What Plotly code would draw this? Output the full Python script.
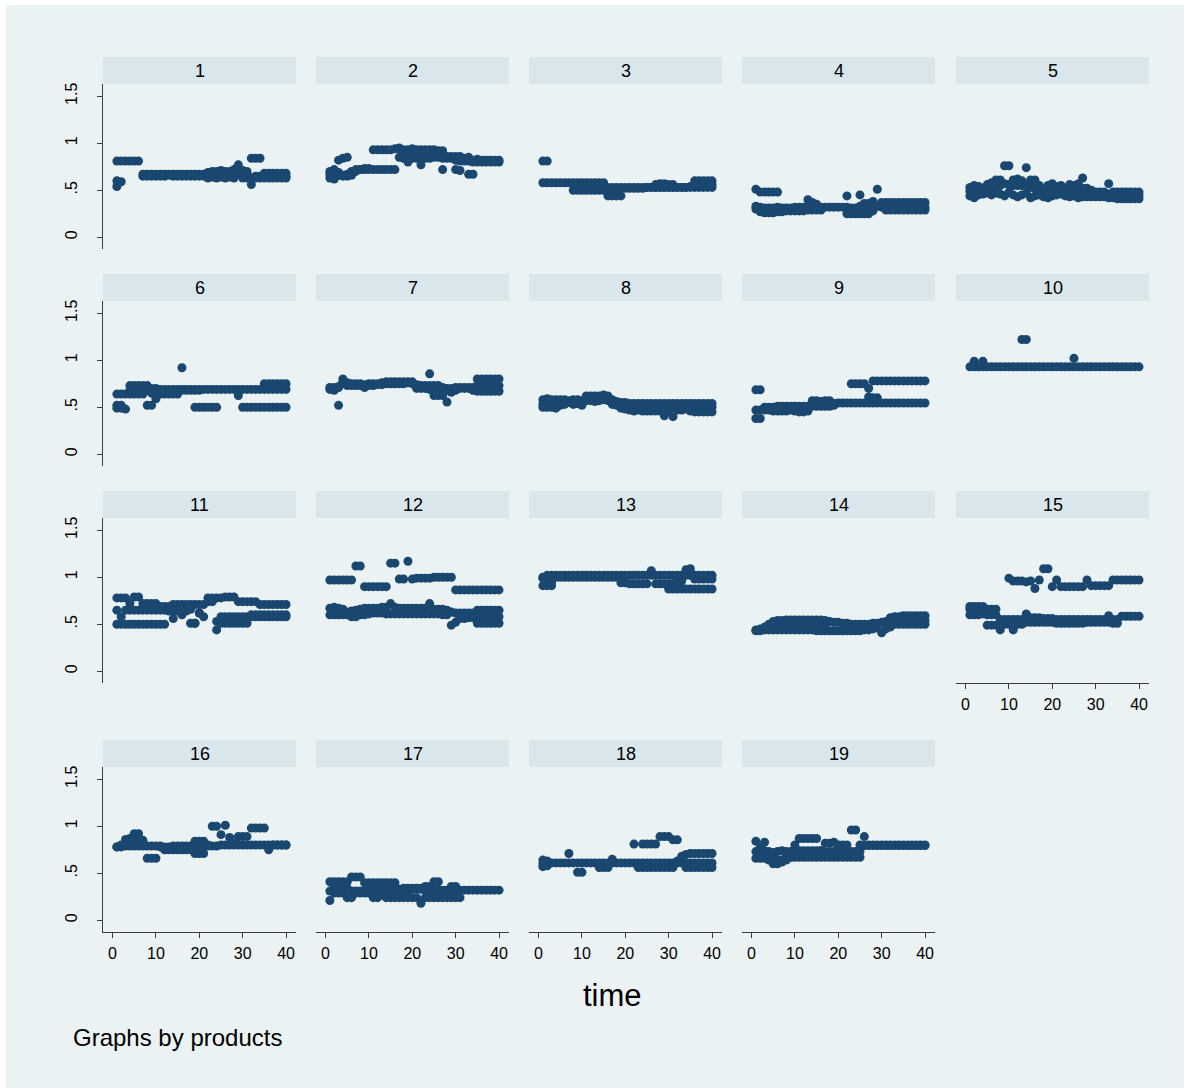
import plotly.graph_objects as go

N = None

# time index shared by every product
time = list(range(1, 41))

# product ids used as panel headers
products = [str(i) for i in range(1, 20)]

# Observed values per product: each list holds one value per time period (None = no obs)
prod_01 = [
    [0.60, 0.59, N, N, N, N, 0.65, 0.65, 0.65, 0.65,
     0.65, 0.65, 0.66, 0.65, 0.65, 0.65, 0.65, 0.65, 0.65, 0.65,
     0.65, 0.66, 0.66, 0.65, 0.66, 0.67, 0.66, 0.67, 0.72, 0.68,
     0.68, 0.56, 0.65, 0.65, 0.65, 0.65, 0.65, 0.65, 0.65, 0.65],
    [0.81, 0.81, 0.81, 0.81, 0.81, 0.81, 0.67, 0.67, 0.67, 0.67,
     0.67, 0.67, 0.67, 0.67, 0.67, 0.67, 0.67, 0.67, 0.67, 0.67,
     0.67, 0.69, 0.70, 0.70, 0.71, 0.70, 0.70, 0.72, 0.77, 0.71,
     0.70, 0.84, 0.84, 0.84, 0.68, 0.68, 0.68, 0.68, 0.68, 0.68],
    [0.54, N, N, N, N, N, N, N, N, N,
     N, N, N, N, N, N, N, N, N, N,
     N, 0.63, 0.64, 0.63, 0.64, 0.63, 0.64, 0.63, 0.68, 0.63,
     0.63, 0.63, 0.63, 0.63, 0.63, 0.63, 0.63, 0.63, 0.63, 0.63],
]
prod_02 = [
    [0.63, 0.62, 0.66, 0.66, 0.67, 0.70, 0.72, 0.72, 0.72, 0.72,
     0.72, 0.72, 0.72, 0.72, 0.72, 0.72, 0.85, 0.84, 0.84, 0.84,
     0.84, 0.84, 0.84, 0.84, 0.85, 0.85, 0.84, 0.84, 0.84, 0.82,
     0.81, 0.81, 0.81, 0.80, 0.80, 0.80, 0.80, 0.80, 0.80, 0.80],
    [0.70, 0.72, 0.82, 0.84, 0.85, 0.66, 0.70, 0.72, 0.73, 0.73,
     0.93, 0.93, 0.93, 0.93, 0.93, 0.94, 0.94, 0.93, 0.93, 0.94,
     0.93, 0.93, 0.93, 0.93, 0.93, 0.92, 0.92, 0.86, 0.86, 0.86,
     0.86, 0.84, 0.85, 0.82, 0.83, 0.82, 0.82, 0.82, 0.82, 0.82],
    [0.67, 0.65, 0.69, 0.65, 0.65, N, N, N, N, N,
     N, N, N, N, N, N, 0.95, 0.88, 0.80, 0.87,
     0.90, 0.77, 0.86, 0.86, 0.86, 0.86, 0.72, N, N, 0.72,
     0.71, N, 0.67, 0.67, N, N, N, N, N, N],
]
prod_03 = [
    [0.58, 0.58, 0.58, 0.58, 0.58, 0.58, 0.58, 0.58, 0.58, 0.58,
     0.58, 0.58, 0.58, 0.58, 0.58, 0.53, 0.53, 0.53, 0.53, 0.53,
     0.53, 0.53, 0.53, 0.53, 0.53, 0.53, 0.53, 0.53, 0.53, 0.53,
     0.53, 0.53, 0.53, 0.53, 0.53, 0.53, 0.53, 0.53, 0.53, 0.53],
    [0.81, 0.81, N, N, N, N, N, 0.50, 0.50, 0.50,
     0.50, 0.50, 0.50, 0.50, 0.50, 0.44, 0.44, 0.44, 0.44, N,
     N, N, N, N, N, N, 0.56, 0.57, 0.57, 0.56,
     0.56, N, N, N, N, 0.60, 0.60, 0.60, 0.60, 0.60],
    [N, N, N, N, N, N, N, N, N, N,
     N, N, N, N, N, 0.49, 0.50, 0.48, 0.52, 0.52,
     0.52, 0.52, 0.52, 0.52, 0.53, 0.53, 0.53, 0.53, 0.53, 0.53,
     0.53, 0.53, 0.53, 0.53, 0.54, 0.56, 0.56, 0.56, 0.56, 0.56],
]
prod_04 = [
    [0.33, 0.32, 0.31, 0.31, 0.31, 0.32, 0.31, 0.31, 0.31, 0.32,
     0.32, 0.32, 0.33, 0.32, 0.32, 0.32, 0.32, 0.32, 0.32, 0.32,
     0.32, 0.32, 0.31, 0.31, 0.33, 0.33, 0.32, 0.34, 0.33, 0.32,
     0.32, 0.32, 0.32, 0.32, 0.32, 0.32, 0.32, 0.32, 0.32, 0.32],
    [0.51, 0.48, 0.48, 0.48, 0.48, 0.48, N, N, N, N,
     N, N, 0.40, 0.37, 0.35, N, N, N, N, N,
     N, 0.44, N, N, 0.45, 0.36, 0.36, 0.38, 0.51, 0.37,
     0.37, 0.37, 0.37, 0.37, 0.37, 0.37, 0.37, 0.37, 0.37, 0.37],
    [0.30, 0.27, 0.26, 0.26, 0.26, 0.27, 0.27, 0.28, 0.28, 0.28,
     0.28, 0.28, 0.29, 0.29, 0.29, 0.29, N, N, N, N,
     N, 0.25, 0.25, 0.25, 0.25, 0.25, 0.25, 0.28, N, N,
     0.29, 0.29, 0.29, 0.29, 0.29, 0.29, 0.29, 0.29, 0.29, 0.29],
]
prod_05 = [
    [0.49, 0.47, 0.50, 0.50, 0.50, 0.52, 0.55, 0.55, 0.57, 0.56,
     0.55, 0.55, 0.55, 0.55, 0.53, 0.52, 0.52, 0.51, 0.51, 0.50,
     0.49, 0.50, 0.52, 0.51, 0.50, 0.50, 0.52, 0.48, 0.47, 0.46,
     0.46, 0.46, 0.46, 0.46, 0.46, 0.45, 0.45, 0.45, 0.45, 0.45],
    [0.53, 0.55, 0.54, 0.52, 0.56, 0.58, 0.61, 0.61, 0.76, 0.76,
     0.61, 0.62, 0.60, 0.74, 0.61, 0.61, 0.55, 0.50, 0.55, 0.57,
     0.54, 0.55, 0.52, 0.56, 0.55, 0.57, 0.63, 0.52, 0.50, 0.48,
     0.48, 0.48, 0.57, 0.48, 0.48, 0.48, 0.48, 0.48, 0.48, 0.48],
    [0.44, 0.42, 0.45, 0.46, 0.47, 0.45, 0.47, 0.46, 0.44, 0.48,
     0.45, 0.43, 0.45, 0.47, 0.42, 0.44, 0.45, 0.43, 0.42, 0.44,
     0.45, 0.46, 0.44, 0.43, 0.44, 0.42, 0.43, 0.43, 0.43, 0.43,
     0.43, 0.43, 0.42, 0.42, 0.41, 0.41, 0.41, 0.41, 0.41, 0.41],
]
prod_06 = [
    [0.64, 0.64, 0.64, 0.73, 0.73, 0.73, 0.73, 0.73, 0.70, 0.70,
     0.69, 0.69, 0.69, 0.69, 0.69, 0.69, 0.69, 0.69, 0.69, 0.69,
     0.69, 0.69, 0.69, 0.69, 0.69, 0.69, 0.69, 0.69, 0.69, 0.69,
     0.69, 0.69, 0.69, 0.69, 0.75, 0.75, 0.75, 0.75, 0.75, 0.75],
    [0.52, 0.52, 0.48, 0.64, 0.64, 0.64, 0.64, 0.52, 0.52, 0.59,
     0.64, 0.64, 0.64, 0.64, 0.64, 0.92, N, N, 0.50, 0.50,
     0.50, 0.50, 0.50, 0.50, N, N, N, N, 0.625, 0.50,
     0.50, 0.50, 0.50, 0.50, 0.50, 0.50, 0.50, 0.50, 0.50, 0.50],
    [0.49, 0.49, N, 0.68, 0.68, 0.68, 0.68, 0.68, 0.65, 0.63,
     0.65, 0.65, 0.65, 0.65, 0.65, 0.68, 0.68, 0.68, 0.68, 0.68,
     N, N, N, N, N, N, N, N, N, N,
     N, N, N, N, 0.69, 0.69, 0.69, 0.69, 0.69, 0.69],
]
prod_07 = [
    [0.71, 0.71, 0.71, 0.75, 0.75, 0.75, 0.75, 0.75, 0.74, 0.75,
     0.75, 0.75, 0.76, 0.77, 0.77, 0.77, 0.77, 0.77, 0.77, 0.77,
     0.74, 0.73, 0.73, 0.73, 0.73, 0.73, 0.71, 0.70, 0.70, 0.71,
     0.71, 0.71, 0.71, 0.71, 0.73, 0.73, 0.73, 0.73, 0.73, 0.73],
    [0.69, 0.68, 0.52, 0.80, 0.73, 0.73, 0.73, 0.73, 0.71, 0.73,
     0.73, 0.74, 0.74, 0.75, 0.75, 0.75, 0.75, 0.75, 0.76, 0.75,
     N, N, N, 0.855, 0.625, 0.625, 0.625, 0.555, 0.66, N,
     N, N, N, N, 0.80, 0.80, 0.80, 0.80, 0.80, 0.80],
    [N, N, 0.72, 0.77, 0.76, N, N, N, N, N,
     N, N, N, N, N, N, N, N, N, N,
     0.70, 0.70, 0.70, 0.69, 0.70, 0.70, 0.69, 0.68, 0.68, 0.68,
     0.70, 0.70, 0.70, 0.68, 0.67, 0.67, 0.67, 0.67, 0.67, 0.67],
]
prod_08 = [
    [0.58, 0.59, 0.58, 0.58, 0.58, 0.58, 0.57, 0.58, 0.58, 0.57,
     0.62, 0.62, 0.62, 0.62, 0.63, 0.62, 0.58, 0.56, 0.55, 0.55,
     0.54, 0.54, 0.54, 0.54, 0.54, 0.54, 0.54, 0.54, 0.54, 0.54,
     0.54, 0.54, 0.54, 0.54, 0.54, 0.54, 0.54, 0.54, 0.54, 0.54],
    [0.53, 0.52, 0.54, 0.54, 0.52, 0.53, 0.55, 0.53, 0.54, 0.52,
     0.57, 0.57, 0.56, 0.57, 0.58, 0.57, 0.53, 0.52, 0.49, 0.48,
     0.47, 0.46, 0.47, 0.46, 0.46, 0.46, 0.46, 0.46, 0.41, 0.46,
     0.40, 0.47, 0.47, 0.48, 0.46, 0.45, 0.45, 0.45, 0.45, 0.45],
    [0.50, 0.50, 0.50, 0.49, N, N, N, N, N, N,
     N, N, N, N, N, N, N, N, N, N,
     N, 0.50, 0.49, 0.50, 0.49, 0.50, 0.50, 0.50, 0.50, 0.50,
     0.50, 0.50, 0.50, 0.52, 0.52, 0.50, 0.50, 0.50, 0.50, 0.50],
]
prod_09 = [
    [0.47, 0.47, 0.50, 0.50, 0.50, 0.51, 0.51, 0.51, 0.51, 0.51,
     0.51, 0.51, 0.51, 0.51, 0.51, 0.51, 0.51, 0.51, 0.54, 0.545,
     0.545, 0.545, 0.545, 0.545, 0.545, 0.545, 0.545, 0.545, 0.545, 0.545,
     0.545, 0.545, 0.545, 0.545, 0.545, 0.545, 0.545, 0.545, 0.545, 0.545],
    [0.685, 0.685, 0.47, 0.47, 0.46, 0.46, 0.46, 0.46, 0.47, 0.46,
     0.45, 0.45, 0.46, 0.57, 0.57, 0.56, 0.57, 0.57, 0.52, N,
     N, N, 0.75, 0.75, 0.75, 0.75, 0.70, 0.78, 0.78, 0.78,
     0.78, 0.78, 0.78, 0.78, 0.78, 0.78, 0.78, 0.78, 0.78, 0.78],
    [0.38, 0.38, N, N, N, N, N, N, N, N,
     N, N, N, N, N, N, N, N, N, N,
     N, N, N, N, N, N, 0.61, 0.60, 0.60, N,
     N, N, N, N, N, N, N, N, N, N],
]
prod_10 = [
    [0.93, 0.93, 0.93, 0.93, 0.93, 0.93, 0.93, 0.93, 0.93, 0.93,
     0.93, 0.93, 0.93, 0.93, 0.93, 0.93, 0.93, 0.93, 0.93, 0.93,
     0.93, 0.93, 0.93, 0.93, 0.93, 0.93, 0.93, 0.93, 0.93, 0.93,
     0.93, 0.93, 0.93, 0.93, 0.93, 0.93, 0.93, 0.93, 0.93, 0.93],
    [N, 0.99, N, 0.99, N, N, N, N, N, N,
     N, N, 1.22, 1.22, N, N, N, N, N, N,
     N, N, N, N, 1.02, N, N, N, N, N,
     N, N, N, N, N, N, N, N, N, N],
]
prod_11 = [
    [0.78, 0.78, 0.78, 0.72, 0.79, 0.79, 0.72, 0.72, 0.72, 0.72,
     0.69, 0.69, 0.69, 0.71, 0.71, 0.71, 0.71, 0.71, 0.71, 0.71,
     0.71, 0.78, 0.78, 0.78, 0.78, 0.79, 0.79, 0.79, 0.74, 0.74,
     0.74, 0.74, 0.74, 0.71, 0.71, 0.71, 0.71, 0.71, 0.71, 0.71],
    [0.65, 0.58, 0.65, 0.65, 0.65, 0.65, 0.65, 0.65, 0.65, 0.65,
     0.65, 0.65, 0.68, 0.56, 0.65, 0.60, 0.66, 0.66, 0.51, 0.62,
     0.58, 0.74, 0.74, 0.53, 0.58, 0.58, 0.58, 0.58, 0.58, 0.58,
     0.58, 0.58, 0.58, 0.58, 0.58, 0.58, 0.58, 0.58, 0.58, 0.58],
    [0.50, 0.50, 0.50, 0.50, 0.50, 0.50, 0.50, 0.50, 0.50, 0.50,
     0.50, 0.50, 0.64, 0.64, 0.64, 0.64, 0.64, 0.51, 0.51, 0.62,
     N, N, N, 0.44, 0.51, 0.51, 0.51, 0.51, 0.51, 0.51,
     0.51, 0.60, 0.60, 0.60, 0.60, 0.60, 0.60, 0.60, 0.60, 0.60],
]
prod_12 = [
    [0.97, 0.97, 0.97, 0.97, 0.97, 0.97, 1.12, 1.12, 0.90, 0.90,
     0.90, 0.90, 0.90, 0.90, 1.15, 1.15, 0.98, 0.98, 1.17, 0.98,
     0.99, 0.99, 0.99, 0.99, 1.00, 1.00, 1.00, 1.00, 1.00, 0.865,
     0.865, 0.865, 0.865, 0.865, 0.865, 0.865, 0.865, 0.865, 0.865, 0.865],
    [0.67, 0.68, 0.67, 0.66, 0.63, 0.64, 0.65, 0.66, 0.67, 0.67,
     0.67, 0.67, 0.68, 0.68, 0.72, 0.68, 0.67, 0.67, 0.67, 0.67,
     0.67, 0.67, 0.67, 0.72, 0.66, 0.66, 0.66, 0.65, 0.63, 0.62,
     0.62, 0.62, 0.62, 0.62, 0.65, 0.65, 0.65, 0.65, 0.65, 0.65],
    [0.60, 0.60, 0.60, 0.60, 0.60, 0.58, 0.58, 0.60, 0.60, 0.61,
     0.62, 0.62, 0.62, 0.61, 0.61, 0.61, 0.61, 0.61, 0.61, 0.61,
     0.61, 0.61, 0.61, 0.61, 0.61, 0.61, 0.60, 0.60, 0.49, 0.52,
     0.56, 0.56, 0.57, 0.57, 0.51, 0.51, 0.51, 0.51, 0.51, 0.51],
    [N, N, N, N, N, N, N, N, N, N,
     N, N, N, N, N, N, N, N, N, N,
     N, N, N, N, N, N, N, N, N, N,
     N, N, N, N, 0.58, 0.58, 0.58, 0.58, 0.58, 0.58],
]
prod_13 = [
    [1.00, 1.02, 1.02, 1.02, 1.02, 1.02, 1.02, 1.02, 1.02, 1.02,
     1.02, 1.02, 1.02, 1.02, 1.02, 1.02, 1.02, 1.02, 1.02, 1.02,
     1.02, 1.02, 1.02, 1.02, 1.02, 1.02, 1.02, 1.02, 1.02, 1.02,
     1.02, 1.02, 1.02, 1.02, 1.02, 1.02, 1.02, 1.02, 1.02, 1.02],
    [0.99, 0.94, 0.94, 1.00, 1.00, 1.00, 1.00, 1.00, 1.00, 1.00,
     1.00, 1.00, 1.00, 1.00, 1.00, 1.00, 1.00, 1.00, 0.94, 0.94,
     0.93, 0.93, 0.93, 0.93, 0.93, 1.07, 0.93, 0.93, 0.93, 0.93,
     0.93, 0.96, 0.96, 1.08, 1.09, 0.98, 0.98, 0.98, 0.98, 0.98],
    [0.91, 0.91, 0.91, N, N, N, N, N, N, N,
     N, N, N, N, N, N, N, N, N, N,
     N, N, N, N, N, N, N, N, N, 0.875,
     0.875, 0.875, 0.875, 0.875, 0.875, 0.875, 0.875, 0.875, 0.875, 0.875],
]
prod_14 = [
    [0.44, 0.45, 0.47, 0.50, 0.53, 0.54, 0.54, 0.545, 0.545, 0.545,
     0.545, 0.545, 0.545, 0.545, 0.545, 0.545, 0.54, 0.53, 0.52, 0.52,
     0.51, 0.51, 0.50, 0.50, 0.50, 0.50, 0.50, 0.51, 0.51, 0.52,
     0.53, 0.57, 0.58, 0.58, 0.59, 0.59, 0.59, 0.59, 0.59, 0.59],
    [0.43, 0.43, 0.44, 0.44, 0.44, 0.44, 0.44, 0.44, 0.44, 0.44,
     0.44, 0.44, 0.44, 0.44, 0.43, 0.43, 0.43, 0.43, 0.43, 0.43,
     0.43, 0.43, 0.43, 0.43, 0.43, 0.44, 0.44, 0.45, 0.46, 0.41,
     0.45, 0.47, 0.50, 0.50, 0.50, 0.50, 0.50, 0.50, 0.50, 0.50],
    [N, N, N, N, 0.49, 0.49, 0.49, 0.49, 0.49, 0.49,
     0.49, 0.49, 0.49, 0.49, 0.49, 0.49, 0.48, N, N, N,
     N, N, N, N, N, N, N, N, N, N,
     N, N, 0.54, 0.54, 0.54, 0.54, 0.54, 0.54, 0.54, 0.54],
]
prod_15 = [
    [0.66, 0.66, 0.67, 0.66, 0.66, 0.66, 0.66, N, N, 0.99,
     0.96, 0.96, 0.96, 0.95, 0.96, 0.88, 0.97, 1.09, 1.09, 0.90,
     0.97, 0.90, 0.90, 0.90, 0.90, 0.90, 0.90, 0.97, 0.91, 0.91,
     0.91, 0.91, 0.91, 0.97, 0.97, 0.97, 0.97, 0.97, 0.97, 0.97],
    [0.60, 0.60, 0.60, 0.61, 0.60, 0.60, 0.60, 0.55, 0.55, 0.55,
     0.55, 0.55, 0.55, 0.61, 0.57, 0.57, 0.57, 0.56, 0.56, 0.56,
     0.55, 0.55, 0.55, 0.55, 0.55, 0.55, 0.55, 0.55, 0.55, 0.55,
     0.55, 0.55, 0.59, 0.55, 0.55, 0.585, 0.585, 0.585, 0.585, 0.585],
    [0.69, 0.69, 0.69, 0.69, 0.49, 0.49, 0.49, 0.44, 0.50, 0.50,
     0.44, 0.50, 0.50, 0.52, 0.52, 0.52, 0.52, 0.52, 0.52, 0.52,
     0.51, 0.51, 0.51, 0.51, 0.51, 0.51, 0.51, 0.52, 0.52, 0.52,
     0.52, 0.52, 0.52, 0.51, 0.51, N, N, N, N, N],
]
prod_16 = [
    [0.78, 0.78, 0.79, 0.79, 0.79, 0.79, 0.79, 0.79, 0.79, 0.79,
     0.79, 0.78, 0.78, 0.79, 0.79, 0.79, 0.79, 0.79, 0.79, 0.79,
     0.79, 0.79, 0.79, 0.79, 0.80, 0.80, 0.80, 0.80, 0.80, 0.80,
     0.80, 0.80, 0.80, 0.80, 0.80, 0.80, 0.80, 0.80, 0.80, 0.80],
    [0.78, 0.80, 0.86, 0.87, 0.92, 0.92, 0.85, 0.66, 0.66, 0.66,
     0.78, 0.75, 0.75, 0.75, 0.75, 0.75, 0.75, 0.75, 0.71, 0.71,
     0.71, 0.80, 1.00, 1.00, 0.91, 1.01, 0.88, 0.82, 0.89, 0.89,
     0.89, 0.98, 0.98, 0.98, 0.98, 0.75, 0.80, 0.80, 0.80, 0.80],
    [N, N, 0.82, 0.83, 0.84, 0.85, 0.82, N, N, N,
     N, N, N, N, N, N, N, N, 0.84, 0.84,
     0.84, N, N, N, N, N, N, N, N, N,
     N, N, N, N, N, N, N, N, N, N],
]
prod_17 = [
    [0.31, 0.34, 0.34, 0.34, 0.34, 0.31, 0.31, 0.31, 0.32, 0.32,
     0.32, 0.32, 0.32, 0.32, 0.32, 0.32, 0.30, 0.30, 0.30, 0.33,
     0.33, 0.33, 0.32, 0.32, 0.32, 0.32, 0.32, 0.32, 0.32, 0.32,
     0.32, 0.32, 0.32, 0.32, 0.32, 0.32, 0.32, 0.32, 0.32, 0.32],
    [0.41, 0.41, 0.41, 0.41, 0.41, 0.46, 0.46, 0.46, 0.40, 0.40,
     0.40, 0.40, 0.40, 0.40, 0.40, 0.40, 0.33, 0.34, 0.34, 0.34,
     0.34, 0.34, 0.36, 0.36, 0.41, 0.41, 0.30, 0.30, 0.36, 0.36,
     N, N, N, N, N, N, N, N, N, N],
    [0.21, 0.29, 0.29, 0.29, 0.24, 0.24, 0.29, 0.29, 0.29, 0.29,
     0.24, 0.24, 0.29, 0.24, 0.24, 0.24, 0.24, 0.24, 0.24, 0.24,
     0.24, 0.18, 0.24, 0.24, 0.24, 0.24, 0.24, 0.24, 0.24, 0.24,
     0.24, N, N, N, N, N, N, N, N, N],
]
prod_18 = [
    [0.60, 0.61, 0.61, 0.61, 0.61, 0.61, 0.61, 0.61, 0.61, 0.61,
     0.61, 0.61, 0.61, 0.61, 0.61, 0.61, 0.61, 0.61, 0.61, 0.61,
     0.61, 0.61, 0.61, 0.61, 0.61, 0.61, 0.61, 0.61, 0.61, 0.61,
     0.61, 0.61, 0.61, 0.61, 0.61, 0.61, 0.61, 0.61, 0.61, 0.61],
    [0.64, 0.63, N, N, N, N, 0.71, N, 0.51, 0.51,
     N, N, N, 0.56, 0.56, 0.56, 0.65, N, N, N,
     N, 0.81, N, 0.81, 0.81, 0.81, 0.81, 0.89, 0.89, 0.89,
     0.855, 0.855, 0.68, 0.70, 0.71, 0.71, 0.71, 0.71, 0.71, 0.71],
    [0.57, 0.58, N, N, N, N, N, N, N, N,
     N, N, N, N, N, N, N, N, N, N,
     N, N, 0.56, 0.56, 0.56, 0.56, 0.56, 0.56, 0.56, 0.56,
     0.56, 0.63, 0.65, 0.56, 0.56, 0.56, 0.56, 0.56, 0.56, 0.56],
]
prod_19 = [
    [0.73, 0.73, 0.74, 0.73, 0.72, 0.73, 0.74, 0.73, 0.73, 0.74,
     0.74, 0.74, 0.74, 0.74, 0.74, 0.74, 0.73, 0.73, 0.73, 0.73,
     0.73, 0.73, 0.73, 0.73, 0.73, 0.795, 0.795, 0.795, 0.795, 0.795,
     0.795, 0.795, 0.795, 0.795, 0.795, 0.795, 0.795, 0.795, 0.795, 0.795],
    [0.84, 0.77, 0.83, 0.70, 0.60, 0.60, 0.62, 0.67, 0.67, 0.80,
     0.87, 0.87, 0.87, 0.87, 0.87, 0.74, 0.82, 0.82, 0.83, 0.80,
     0.80, 0.80, 0.96, 0.96, 0.80, 0.89, 0.80, 0.80, 0.80, 0.80,
     0.80, 0.80, 0.80, 0.80, 0.80, 0.80, 0.80, 0.80, 0.80, 0.80],
    [0.66, 0.66, 0.66, 0.64, 0.64, 0.64, 0.64, 0.64, 0.67, 0.67,
     0.67, 0.67, 0.67, 0.67, 0.67, 0.67, 0.67, 0.67, 0.67, 0.67,
     0.67, 0.67, 0.67, 0.67, 0.67, N, N, N, N, N,
     N, N, N, N, N, N, N, N, N, N],
]

panel_data = [prod_01, prod_02, prod_03, prod_04, prod_05, prod_06, prod_07,
              prod_08, prod_09, prod_10, prod_11, prod_12, prod_13, prod_14,
              prod_15, prod_16, prod_17, prod_18, prod_19]

y_tickvals = [0, 0.5, 1, 1.5]
y_ticktext = ["0", ".5", "1", "1.5"]
x_tickvals = [0, 10, 20, 30, 40]

# ---- page layout (pixels) ----
W, H = 1186, 1090
col_left = [103, 316, 529, 742, 956]
panel_w = 193
row_top = [84, 301, 518, 767]
panel_h = 165
strip_h = 27

BG = "#eaf2f3"
STRIP = "#d9e6eb"
NAVY = "#1a476f"
AXIS = "#3c3c3c"
FONT = "Liberation Sans Narrow, Arial Narrow, Liberation Sans, Arial, sans-serif"

fig = go.Figure()
layout = dict(
    width=W, height=H,
    margin=dict(l=0, r=0, t=0, b=0),
    paper_bgcolor="white",
    plot_bgcolor="white",
    showlegend=False,
    font=dict(family=FONT, color="black"),
)
shapes = [dict(type="rect", xref="paper", yref="paper", layer="below",
               x0=6 / W, x1=1184 / W, y0=1 - 1088 / H, y1=1 - 5 / H,
               fillcolor=BG, line=dict(width=0))]
annotations = []

bottom_panels = {14, 15, 16, 17, 18}

for i, series in enumerate(panel_data):
    r, c = divmod(i, 5)
    x0 = col_left[c]
    top = row_top[r]
    ax = "" if i == 0 else str(i + 1)
    xdom = [x0 / W, (x0 + panel_w) / W]
    ydom = [1 - (top + panel_h) / H, 1 - top / H]

    for vals in series:
        fig.add_trace(go.Scatter(
            x=time, y=vals, mode="markers",
            xaxis="x" + ax, yaxis="y" + ax,
            marker=dict(color=NAVY, size=9, line=dict(width=0)),
            hoverinfo="x+y",
        ))

    is_bottom = i in bottom_panels
    layout["xaxis" + ax] = dict(
        domain=xdom, anchor="y" + ax, range=[-2.2, 42.3],
        showgrid=False, zeroline=False,
        showline=is_bottom, linecolor=AXIS, linewidth=1,
        ticks="outside" if is_bottom else "", ticklen=5, tickcolor=AXIS,
        tickvals=x_tickvals, showticklabels=is_bottom,
        tickfont=dict(size=16, color="black", family=FONT),
        ticklabelstandoff=2,
    )
    first_col = (c == 0)
    layout["yaxis" + ax] = dict(
        domain=ydom, anchor="x" + ax, range=[-0.125, 1.63],
        showgrid=True, gridcolor=BG, gridwidth=2, zeroline=False,
        tickvals=y_tickvals, ticktext=y_ticktext,
        showline=first_col, linecolor=AXIS, linewidth=1,
        ticks="outside" if first_col else "", ticklen=5, tickcolor=AXIS,
        showticklabels=first_col, tickangle=-90,
        tickfont=dict(size=16, color="black", family=FONT),
        ticklabelstandoff=14,
    )

    # panel header strip
    shapes.append(dict(type="rect", xref="paper", yref="paper", layer="below",
                       x0=xdom[0], x1=xdom[1],
                       y0=1 - top / H, y1=1 - (top - strip_h) / H,
                       fillcolor=STRIP, line=dict(width=0)))
    annotations.append(dict(text=products[i], xref="paper", yref="paper",
                            x=(x0 + panel_w / 2) / W, y=1 - (top - strip_h / 2) / H,
                            showarrow=False, xanchor="center", yanchor="middle",
                            font=dict(size=18, color="black", family=FONT)))

annotations.append(dict(text="time", xref="paper", yref="paper",
                        x=612 / W, y=1 - 995 / H, showarrow=False,
                        xanchor="center", yanchor="middle",
                        font=dict(size=31, color="black", family=FONT)))
annotations.append(dict(text="Graphs by products", xref="paper", yref="paper",
                        x=71 / W, y=1 - 1037 / H, showarrow=False,
                        xanchor="left", yanchor="middle",
                        font=dict(size=24, color="black", family=FONT)))

layout["shapes"] = shapes
layout["annotations"] = annotations
fig.update_layout(**layout)
fig.write_html("out.html")
